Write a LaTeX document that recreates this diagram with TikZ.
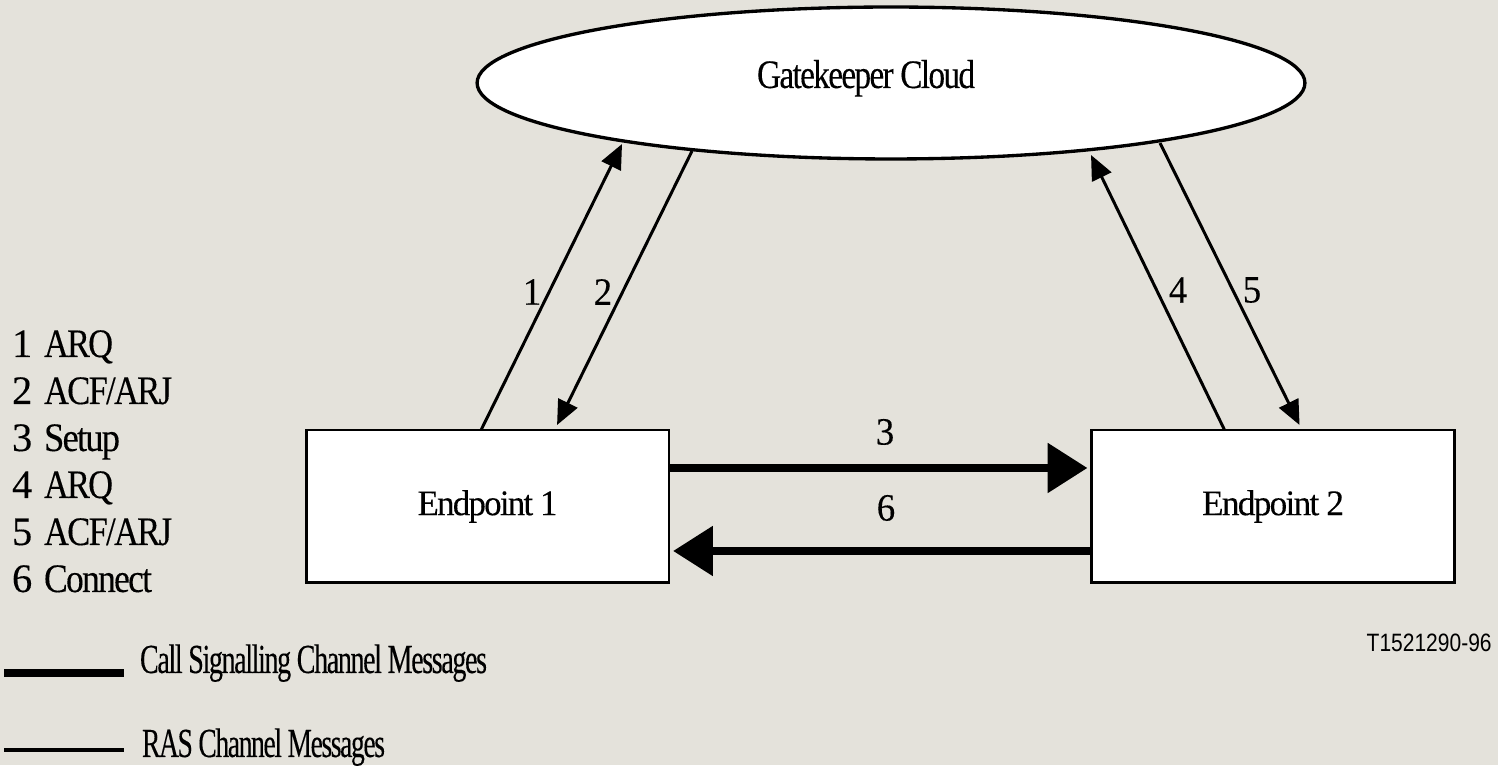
\documentclass[tikz,border=0pt]{standalone}
\usepackage{fontspec}
\usepackage{graphicx}
\setmainfont[LetterSpace=-5,FakeBold=0.25]{Liberation Serif}
\newfontfamily\arialf{Liberation Sans}
\usetikzlibrary{shapes.geometric,arrows.meta,calc}
\definecolor{bgc}{RGB}{228,226,219}
\newcommand{\hw}[2]{\resizebox{#1}{\height}{#2}}
\begin{document}
\begin{tikzpicture}[x=0.02cm,y=-0.02cm,
  txt/.style={inner sep=0pt, outer sep=0pt, font=\fontsize{22}{26}\selectfont},
  epbox/.style={draw, line width=1.7pt, fill=white, outer sep=0pt, inner sep=0pt,
    minimum width=7.26cm, minimum height=3.06cm, font=\fontsize{20.5}{24}\selectfont},
  cloud/.style={ellipse, draw, line width=1.9pt, fill=white, inner sep=0pt, outer sep=0pt,
    minimum width=16.56cm, minimum height=3.04cm},
  ras/.style={line width=1.7pt, -{Triangle[length=14pt,width=12pt]}},
  csig/.style={line width=5.1pt, -{Triangle[length=22.7pt,width=27.2pt]}},
  listitem/.style={txt, anchor=base west, font=\fontsize{23}{27}\selectfont},
]
% background / bounding box
\fill[bgc] (0,0) rectangle (1498,765);

% gatekeeper cloud
\node[cloud] (gk) at (891,83) {};
\node[txt, anchor=base, font=\fontsize{23}{27}\selectfont] (gkt) at (866,88) {\hw{4.36cm}{Gatekeeper Cloud}};

% endpoints
\node[epbox] (ep1) at (487.5,506.5) {\hw{2.8cm}{Endpoint 1}};
\node[epbox] (ep2) at (1273,506.5) {\hw{2.84cm}{Endpoint 2}};

% points on the cloud
\coordinate (g1) at (622,144);
\coordinate (g2) at (692,151);
\coordinate (g4) at (1091,155);
\coordinate (g5) at (1160,143);

% RAS messages
\draw[ras] ($(ep1.north west)+(175,0)$) -- (g1);
\draw[ras] (g2) -- ($(ep1.north west)+(251,-5)$);
\draw[ras] ($(ep2.north west)+(133,0)$) -- (g4);
\draw[ras] (g5) -- ($(ep2.north west)+(208,-5)$);

% call signalling messages
\draw[csig] ($(ep1.east)+(0,-38.5)$) -- ($(ep2.west)+(-4,-38.5)$);
\draw[csig] ($(ep2.west)+(0,44.5)$) -- ($(ep1.east)+(4,44.5)$);

% arrow labels
\node[txt] (l1) at (532,292) {\scalebox{0.95}[1]{1}};
\node[txt] (l2) at (603,292) {\scalebox{0.95}[1]{2}};
\node[txt] (l4) at (1178,290) {\scalebox{0.95}[1]{4}};
\node[txt] (l5) at (1252,290) {\scalebox{0.95}[1]{5}};
\node[txt] (l3) at (885,432) {\scalebox{0.95}[1]{3}};
\node[txt] (l6) at (886,508) {\scalebox{0.95}[1]{6}};

% message list
\node[listitem] (li1) at (12,357) {\makebox[0.64cm][l]{1}\hw{1.38cm}{ARQ}};
\node[listitem] (li2) at (12,404) {\makebox[0.64cm][l]{2}\hw{2.56cm}{ACF/ARJ}};
\node[listitem] (li3) at (12,451) {\makebox[0.64cm][l]{3}\hw{1.52cm}{Setup}};
\node[listitem] (li4) at (12,498) {\makebox[0.64cm][l]{4}\hw{1.38cm}{ARQ}};
\node[listitem] (li5) at (12,545) {\makebox[0.64cm][l]{5}\hw{2.56cm}{ACF/ARJ}};
\node[listitem] (li6) at (12,592) {\makebox[0.64cm][l]{6}\hw{2.16cm}{Connect}};

% figure code
\node[inner sep=0pt, anchor=base east, font=\arialf\fontsize{14.3}{17}\selectfont] (tc) at (1492,652) {\hw{2.5cm}{T1521290-96}};

% legend
\coordinate (lga) at (4,673);
\coordinate (lgb) at (124,673);
\coordinate (lgc) at (4,750);
\coordinate (lgd) at (124,750);
\draw[line width=4.6pt] (lga) -- (lgb);
\draw[line width=2.4pt] (lgc) -- (lgd);
\node[txt, anchor=base west, font=\fontsize{23.5}{27}\selectfont] (lgt1) at (140,673) {\hw{6.94cm}{Call Signalling Channel Messages}};
\node[txt, anchor=base west, font=\fontsize{23.5}{27}\selectfont] (lgt2) at (142,757) {\hw{4.86cm}{RAS Channel Messages}};
\end{tikzpicture}
\end{document}
